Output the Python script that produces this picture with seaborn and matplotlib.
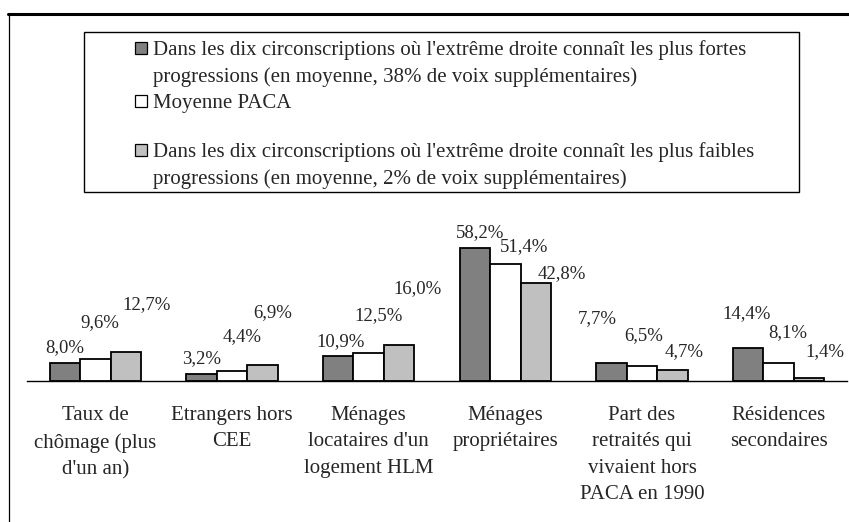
import numpy as np
import pandas as pd
import matplotlib
matplotlib.use("Agg")
import matplotlib.pyplot as plt
from matplotlib.patches import Rectangle
from matplotlib.lines import Line2D
import seaborn as sns

# Data
categories = [
    "Taux de\nchômage (plus\nd'un an)",
    "Etrangers hors\nCEE",
    "Ménages\nlocataires d'un\nlogement HLM",
    "Ménages\npropriétaires",
    "Part des\nretraités qui\nvivaient hors\nPACA en 1990",
    "Résidences\nsecondaires",
]
series = ["Plus fortes progressions", "Moyenne PACA", "Plus faibles progressions"]
fortes = [8.0, 3.2, 10.9, 58.2, 7.7, 14.4]
moyenne = [9.6, 4.4, 12.5, 51.4, 6.5, 8.1]
faibles = [12.7, 6.9, 16.0, 42.8, 4.7, 1.4]

legend_lines = [
    ["Dans les dix circonscriptions où l'extrême droite connaît les plus fortes",
     "progressions (en moyenne, 38% de voix supplémentaires)"],
    ["Moyenne PACA"],
    ["Dans les dix circonscriptions où l'extrême droite connaît les plus faibles",
     "progressions (en moyenne, 2% de voix supplémentaires)"],
]

colors = ["#808080", "#FFFFFF", "#C0C0C0"]

# label offsets in pixels (dx, up) for each series / category, as placed in the original
label_offsets = [
    [(0, 15), (0, 15), (2, 15), (5, 16), (-14, 45), (-2, 35)],
    [(4, 37), (10, 34), (10, 37), (19, 17), (2, 31), (9, 30)],
    [(21, 47), (10, 53), (18, 56), (26, 10), (12, 19), (16, 26)],
]

df = pd.DataFrame({
    "categorie": categories * 3,
    "serie": np.repeat(series, len(categories)),
    "valeur": fortes + moyenne + faibles,
})

sns.set_style("white")
plt.rcParams["font.family"] = ["Liberation Serif", "DejaVu Serif"]

W, H = 849, 522
fig = plt.figure(figsize=(W / 100, H / 100), dpi=100)


def fx(px):
    return px / W


def fy(py):
    return 1 - py / H


ppx = 2.28  # pixels per percent
ymax = 70
ax = fig.add_axes([fx(27), fy(381), fx(847) - fx(27), ymax * ppx / H])

sns.barplot(data=df, x="categorie", y="valeur", hue="serie", hue_order=series,
            order=categories, palette=colors, width=0.67, edgecolor="black",
            linewidth=1.3, saturation=1, legend=False, ax=ax)

ax.set_ylim(0, ymax)
ax.set_xlim(-0.5, len(categories) - 0.5)
ax.set_xlabel("")
ax.set_ylabel("")
ax.set_yticks([])
for s in ["top", "right", "left"]:
    ax.spines[s].set_visible(False)
ax.spines["bottom"].set_color("black")
ax.spines["bottom"].set_linewidth(1.0)
ax.patch.set_alpha(0)

# ticks between categories, labels at category centres
ax.set_xticks(np.arange(-0.5, len(categories), 1.0))
ax.set_xticklabels([])
ax.tick_params(axis="x", which="major", direction="out", length=5, width=0.8, color="black")
ax.set_xticks(np.arange(len(categories)), minor=True)
ax.set_xticklabels(categories, minor=True, fontsize=15, linespacing=1.53)
ax.tick_params(axis="x", which="minor", length=0, pad=18)

# value labels
for i, cont in enumerate(ax.containers):
    for j, bar in enumerate(cont):
        v = bar.get_height()
        dx, up = label_offsets[i][j]
        ax.annotate(f"{v:.1f}%".replace(".", ","),
                    xy=(bar.get_x() + bar.get_width() / 2, v),
                    xytext=(dx, up), textcoords="offset pixels",
                    ha="center", va="center", fontsize=13.5)

# legend drawn as a boxed block
fig.add_artist(Rectangle((fx(84), fy(192)), fx(799) - fx(84), fy(32) - fy(192),
                         transform=fig.transFigure, fill=False,
                         edgecolor="black", linewidth=1.0))
baselines = [[55, 82], [108], [157, 184]]
for k, lines in enumerate(legend_lines):
    b0 = baselines[k][0]
    fig.add_artist(Rectangle((fx(135), fy(b0 - 1)), fx(12), 12 / H,
                             transform=fig.transFigure, facecolor=colors[k],
                             edgecolor="black", linewidth=0.9))
    for line, b in zip(lines, baselines[k]):
        fig.text(fx(153), fy(b), line, fontsize=15, ha="left", va="baseline")

# outer chart frame (cut by the image edge)
fig.add_artist(Line2D([fx(8), 1], [fy(14), fy(14)], transform=fig.transFigure,
                      color="black", linewidth=2.2))
fig.add_artist(Line2D([fx(9), fx(9)], [fy(14), 0], transform=fig.transFigure,
                      color="black", linewidth=0.9))

fig.savefig("out.png", dpi=100)
